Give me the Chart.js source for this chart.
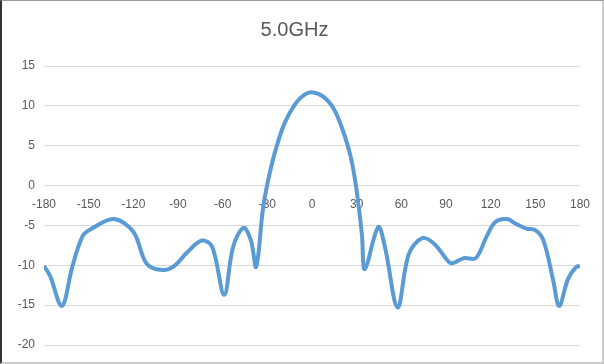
<!DOCTYPE html>
<html>
<head>
<meta charset="utf-8">
<script src="https://cdn.jsdelivr.net/npm/chart.js@4/dist/chart.umd.min.js"></script>
<style>
    html, body { margin: 0; padding: 0; background: #fff; }
    #wrap {
        position: relative;
        width: 604px;
        height: 364px;
        box-sizing: border-box;
        border-left: 2px solid #333;
        border-top: 1px solid #999;
        border-right: 2px solid #ccc;
        border-bottom: 2px solid #ccc;
    }
</style>
</head>
<body>
<div id="wrap"><canvas id="chart"></canvas></div>
<script>
// angle in degrees, gain
const angles = [-180, -176, -168, -161, -154, -148, -133, -120, -111, -100, -92, -84, -74, -67, -59, -53, -46, -41, -37.5, -33, -30, -25, -18.5, -11, -5, 0, 8, 15, 21.5, 26, 29.5, 33.5, 35.5, 44.5, 49, 57.5, 65, 74, 82, 92, 95, 102, 110, 117, 123, 131, 137, 144, 150, 155.5, 162, 166, 172, 177.5, 180];
const gain = [-10.1, -11.3, -15.1, -10.2, -6.3, -5.4, -4.2, -5.8, -9.8, -10.6, -10.0, -8.4, -6.9, -7.7, -13.7, -7.7, -5.3, -6.9, -10.2, -3.0, 0.2, 4.1, 7.8, 10.3, 11.4, 11.7, 11.1, 9.5, 6.5, 3.6, 0, -6.1, -10.5, -5.2, -7.7, -15.3, -8.6, -6.6, -7.3, -9.6, -9.7, -9.1, -9.1, -6.5, -4.6, -4.2, -4.8, -5.4, -5.6, -6.9, -11.9, -15.1, -11.7, -10.2, -10.1];

const xTicks = [-180, -150, -120, -90, -60, -30, 0, 30, 60, 90, 120, 150, 180];
const yMin = -20, yMax = 15, yStep = 5;

const points = angles.map((a, i) => ({ x: a, y: gain[i] }));

const font = 'Liberation Sans';
const grey = '#595959';

new Chart(document.getElementById('chart'), {
    type: 'line',
    data: {
        datasets: [{
            label: '5.0GHz',
            data: points,
            borderColor: '#5B9BD5',
            borderWidth: 4,
            pointRadius: 0,
            fill: false,
            tension: 0.35
        }]
    },
    options: {
        responsive: true,
        maintainAspectRatio: false,
        animation: false,
        layout: { padding: { top: 11, right: 15, bottom: 17, left: 0 } },
        plugins: {
            legend: { display: false },
            tooltip: { enabled: false },
            title: {
                display: true,
                text: '5.0GHz',
                color: grey,
                font: { family: font, size: 20, weight: 'normal' },
                padding: { top: 6, bottom: 24 }
            }
        },
        scales: {
            x: {
                type: 'linear',
                min: -180,
                max: 180,
                position: { y: 0 },
                afterFit: axis => { axis.height = 0; },
                afterBuildTicks: axis => { axis.ticks = xTicks.map(v => ({ value: v })); },
                grid: { display: false, drawTicks: false },
                border: { display: false },
                ticks: {
                    color: grey,
                    font: { family: font, size: 12 },
                    padding: 12,
                    maxRotation: 0,
                    autoSkip: false
                }
            },
            y: {
                min: yMin,
                max: yMax,
                afterFit: axis => { axis.width = 42; },
                grid: { color: '#d9d9d9', lineWidth: 1, drawTicks: false },
                border: { display: false },
                ticks: {
                    stepSize: yStep,
                    color: grey,
                    font: { family: font, size: 12 },
                    padding: 9
                }
            }
        }
    }
});
</script>
</body>
</html>
